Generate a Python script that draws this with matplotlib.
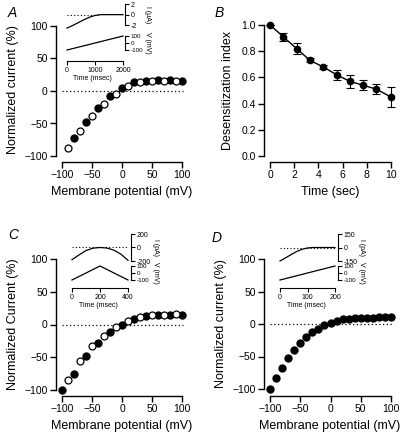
import matplotlib
matplotlib.use("Agg")
import matplotlib.pyplot as plt

plt.rcParams['font.family'] = ['Liberation Sans', 'DejaVu Sans']

# ---- data ----
# A: normalized current vs membrane potential
a_v_filled = [-80, -60, -40, -20, 0, 20, 40, 60, 80, 100]
a_i_filled = [-72, -47, -26, -8, 5, 14, 16, 17, 17, 16]
a_v_open = [-90, -70, -50, -30, -10, 10, 30, 50, 70, 90]
a_i_open = [-87, -62, -39, -20, -4, 8, 14, 16, 16, 15]

# A inset traces
a_t = [0, 200, 400, 600, 800, 1000, 1200, 1600, 2000]
a_cur = [-2.6, -2.1, -1.55, -1.0, -0.5, -0.15, 0, 0, 0]
a_ramp_t = [0, 2000]
a_ramp_v = [-100, 100]

# B: desensitization index vs time
b_t = [0, 1.1, 2.2, 3.3, 4.4, 5.5, 6.6, 7.7, 8.8, 10]
b_idx = [1.0, 0.91, 0.82, 0.73, 0.68, 0.62, 0.57, 0.54, 0.51, 0.45]
b_err = [0, 0.03, 0.04, 0.015, 0.015, 0.04, 0.05, 0.04, 0.04, 0.075]

# C: normalized current vs membrane potential
c_v_filled = [-100, -80, -60, -40, -20, 0, 20, 40, 60, 80, 100]
c_i_filled = [-100, -75, -48, -28, -12, 0, 8, 13, 14, 15, 15]
c_v_open = [-90, -70, -50, -30, -10, 10, 30, 50, 70, 90]
c_i_open = [-84, -56, -33, -17, -4, 6, 11, 14, 15, 16]

# C inset traces
c_t = [0, 50, 100, 150, 200, 250, 300, 350, 400]
c_cur = [-180, -110, -45, -10, 0, -8, -40, -100, -190]
c_ramp_t = [0, 200, 400]
c_ramp_v = [-100, 100, -100]

# D: normalized current vs membrane potential
d_v = [-100, -90, -80, -70, -60, -50, -40, -30, -20, -10, 0,
       10, 20, 30, 40, 50, 60, 70, 80, 90, 100]
d_i = [-100, -83, -67, -53, -40, -29, -20, -13, -7, -2, 2,
       5, 7, 8, 9, 10, 10, 10, 11, 11, 11]

# D inset traces
d_t = [0, 20, 40, 60, 80, 100, 120, 200]
d_cur = [-150, -115, -80, -45, -20, -5, 0, 0]
d_ramp_t = [0, 200]
d_ramp_v = [-100, 100]

W, H = 400, 436
fig = plt.figure(figsize=(W / 100, H / 100), dpi=100)


def lin(p, d0, p0, d1, p1):
    return d0 + (p - p0) * (d1 - d0) / (p1 - p0)


def px_axes(left, right, top, bottom, xmap, ymap):
    # box in pixels (y from top), maps are (d0, p0, d1, p1)
    ax = fig.add_axes([left / W, 1 - bottom / H, (right - left) / W, (bottom - top) / H])
    ax.set_xlim(lin(left, *xmap), lin(right, *xmap))
    ax.set_ylim(lin(bottom, *ymap), lin(top, *ymap))
    ax.patch.set_visible(False)
    return ax


def style_main(ax, xb, yb):
    ax.spines['top'].set_visible(False)
    ax.spines['right'].set_visible(False)
    ax.spines['left'].set_bounds(*yb)
    ax.spines['bottom'].set_bounds(*xb)
    for s in ('left', 'bottom'):
        ax.spines[s].set_linewidth(1.0)
    ax.tick_params(direction='out', length=4, width=1, labelsize=7.5, pad=2)


def iv_panel(box, xmap, ymap, ylabel):
    ax = px_axes(*box, xmap, ymap)
    style_main(ax, (-100, 100), (-100, 100))
    ax.set_xticks([-100, -50, 0, 50, 100])
    ax.set_yticks([-100, -50, 0, 50, 100])
    ax.plot([-100, 102], [0, 0], ls=(0, (1, 2)), color='black', lw=0.9, zorder=1)
    ax.set_xlabel("Membrane potential (mV)", fontsize=9, labelpad=4)
    ax.set_ylabel(ylabel, fontsize=9, labelpad=4)
    return ax


def inset(cur_box, volt_box, tmap, cmap, vmap, cticks, vticks, tticks, clabel, label_x):
    axc = px_axes(*cur_box, tmap, cmap)
    for s in ('top', 'left', 'bottom'):
        axc.spines[s].set_visible(False)
    axc.spines['right'].set_bounds(cticks[0], cticks[-1])
    axc.spines['right'].set_linewidth(0.8)
    axc.yaxis.tick_right()
    axc.set_yticks(cticks)
    axc.set_yticklabels([str(v) for v in cticks])
    axc.set_xticks([])
    axc.tick_params(axis='y', direction='out', length=3, width=0.8, labelsize=5, pad=1)

    axv = px_axes(*volt_box, tmap, vmap)
    axv.spines['top'].set_visible(False)
    axv.spines['left'].set_visible(False)
    axv.spines['right'].set_bounds(vticks[0], vticks[-1])
    axv.spines['bottom'].set_bounds(tticks[0], tticks[-1])
    axv.spines['right'].set_linewidth(0.8)
    axv.spines['bottom'].set_linewidth(0.8)
    axv.yaxis.tick_right()
    axv.set_yticks(vticks)
    axv.set_yticklabels([str(v) for v in vticks])
    axv.set_xticks(tticks)
    axv.tick_params(axis='y', direction='out', length=3, width=0.8, labelsize=4.5, pad=1)
    axv.tick_params(axis='x', direction='out', length=3, width=0.8, labelsize=5, pad=1)
    axv.set_xlabel("Time (msec)", fontsize=5, labelpad=1)

    # rotated unit labels to the right of the brackets
    ci = (cmap[1] + cmap[3]) / 2
    vi = (vmap[1] + vmap[3]) / 2
    fig.text(label_x / W, 1 - ci / H, clabel, fontsize=5, rotation=270,
             ha='center', va='center')
    fig.text(label_x / W, 1 - vi / H, "V (mV)", fontsize=5, rotation=270,
             ha='center', va='center')
    return axc, axv


# ---------------- A ----------------
axA = iv_panel((56, 188, 18, 162), (-100, 62, 100, 182), (100, 26, -100, 156),
               "Normalized current (%)")
axA.plot(a_v_filled, a_i_filled, 'o', ms=5, mfc='black', mec='black', zorder=3)
axA.plot(a_v_open, a_i_open, 'o', ms=5, mfc='white', mec='black', mew=0.9, zorder=3)
fig.text(8 / W, 1 - 13 / H, "A", fontsize=10, style='italic', va='center')

axAc, axAv = inset((60, 125, 1, 30), (60, 125, 31, 61),
                   (0, 67, 2000, 123), (2, 4.3, -2, 25), (100, 36, -100, 50),
                   [-2, 0, 2], [-100, 0, 100], [0, 1000, 2000], "I (\u00b5A)", 148)
axAc.plot([0, 1100], [0, 0], ls=(0, (1, 2)), color='black', lw=0.8)
axAc.plot(a_t, a_cur, color='black', lw=0.9)
axAv.plot(a_ramp_t, a_ramp_v, color='black', lw=0.9)

# ---------------- B ----------------
axB = px_axes(264, 396, 18, 162, (0, 270, 10, 391), (1, 25, 0, 156))
style_main(axB, (0, 10), (0, 1))
axB.set_xticks([0, 2, 4, 6, 8, 10])
axB.set_yticks([0, 0.2, 0.4, 0.6, 0.8, 1.0])
axB.set_yticklabels(["0.0", "0.2", "0.4", "0.6", "0.8", "1.0"])
axB.errorbar(b_t, b_idx, yerr=b_err, fmt='o-', color='black', ms=4.5, lw=1,
             elinewidth=0.8, capsize=3, capthick=0.8)
axB.set_xlabel("Time (sec)", fontsize=9, labelpad=4)
axB.set_ylabel("Desensitization index", fontsize=9, labelpad=5)
fig.text(215 / W, 1 - 13 / H, "B", fontsize=10, style='italic', va='center')

# ---------------- C ----------------
axC = iv_panel((56, 188, 252, 396), (-100, 62, 100, 182), (100, 259, -100, 390),
               "Normalized Current (%)")
axC.plot(c_v_filled, c_i_filled, 'o', ms=5, mfc='black', mec='black', zorder=3)
axC.plot(c_v_open, c_i_open, 'o', ms=5, mfc='white', mec='black', mew=0.9, zorder=3)
fig.text(8 / W, 1 - 235 / H, "C", fontsize=10, style='italic', va='center')

axCc, axCv = inset((66, 131, 229, 264), (66, 131, 265, 288),
                   (0, 72, 400, 128), (200, 234, -200, 261), (100, 266, -100, 280),
                   [-200, 0, 200], [-100, 0, 100], [0, 200, 400], "I (pA)", 155)
axCc.plot([0, 400], [0, 0], ls=(0, (1, 2)), color='black', lw=0.8)
axCc.plot(c_t, c_cur, color='black', lw=0.9)
axCv.plot(c_ramp_t, c_ramp_v, color='black', lw=0.9)

# ---------------- D ----------------
axD = iv_panel((264, 396, 252, 396), (-100, 270, 100, 391), (100, 259, -100, 389),
               "Normalized current (%)")
axD.plot(d_v, d_i, 'o', ms=5, mfc='black', mec='black', zorder=3)
fig.text(212 / W, 1 - 238 / H, "D", fontsize=10, style='italic', va='center')

axDc, axDv = inset((274, 338, 229, 264), (274, 338, 265, 288),
                   (0, 280, 200, 335), (150, 234, -150, 261), (100, 266, -100, 280),
                   [-150, 0, 150], [-100, 0, 100], [0, 100, 200], "I (pA)", 362)
axDc.plot([0, 200], [0, 0], ls=(0, (1, 2)), color='black', lw=0.8)
axDc.plot(d_t, d_cur, color='black', lw=0.9)
axDv.plot(d_ramp_t, d_ramp_v, color='black', lw=0.9)

fig.savefig("out.png", dpi=100, facecolor='white')
